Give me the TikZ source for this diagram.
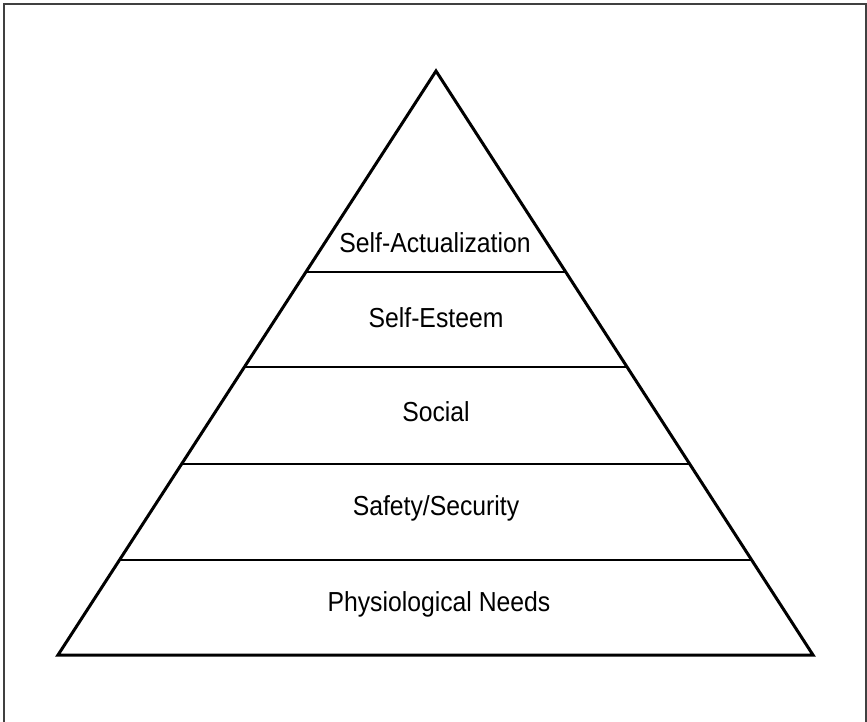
\documentclass[tikz,border=0pt]{standalone}
\usepackage{fontspec}
\setmainfont{Liberation Sans}[FakeStretch=0.90]
\usetikzlibrary{calc}
\begin{document}
\begin{tikzpicture}[x=1pt,y=-1pt,
  frame/.style={draw=black!75,line width=2pt},
  tri/.style={draw=black,line width=3pt,line join=miter},
  divider/.style={draw=black,line width=1.3pt},
  lvl/.style={font=\fontsize{27.5}{32}\selectfont,inner sep=0pt}]
\useasboundingbox (0,0) rectangle (867,722);
\fill[white] (0,0) rectangle (867,722);
\coordinate (ftl) at (4,4);
\coordinate (ftr) at (866,4);
\coordinate (fbl) at (4,722);
\coordinate (fbr) at (866,722);
\draw[frame] (fbl) -- (ftl) -- (ftr) -- (fbr);
\coordinate (apex) at (436,71);
\coordinate (bl) at (58,655);
\coordinate (br) at (813,655);
\foreach \n/\yy in {d1/272,d2/367,d3/464,d4/560}{
  \coordinate (\n l) at ($(apex)!{(\yy-71)/584}!(bl)$);
  \coordinate (\n r) at ($(apex)!{(\yy-71)/584}!(br)$);
  \draw[divider] (\n l) -- (\n r);
}
\draw[tri] (apex) -- (bl) -- (br) -- cycle;
\node[lvl] (sa) at (435,243) {Self-Actualization};
\node[lvl] (se) at (436,318) {Self-Esteem};
\node[lvl] (so) at (436,412) {Social};
\node[lvl] (ss) at (436,508) {Safety/Security};
\node[lvl] (pn) at (439,604) {Physiological Needs};
\end{tikzpicture}
\end{document}
